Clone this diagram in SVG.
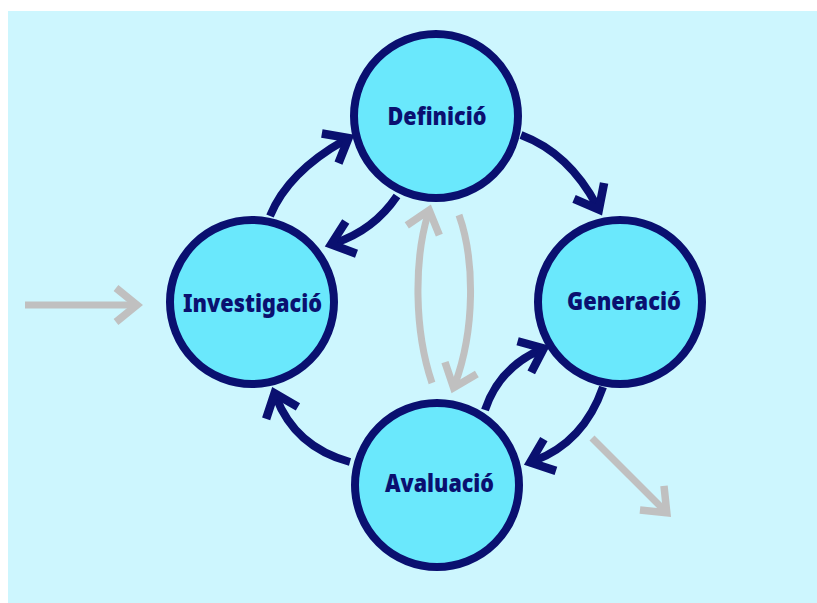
<svg xmlns="http://www.w3.org/2000/svg" width="817" height="603" viewBox="0 0 817 603">
  <defs>
    <marker id="headNavy" markerUnits="userSpaceOnUse" orient="auto" viewBox="-30 -25 40 50" refX="-4" refY="0" markerWidth="40" markerHeight="50">
      <path d="M-21,-17 L0,0 L-21,17" fill="none" stroke="#0a1070" stroke-width="8.5" stroke-linejoin="miter"/>
    </marker>
    <marker id="headGray" markerUnits="userSpaceOnUse" orient="auto" viewBox="-30 -25 40 50" refX="-4" refY="0" markerWidth="40" markerHeight="50">
      <path d="M-21,-17 L0,0 L-21,17" fill="none" stroke="#c0c0c0" stroke-width="7.5" stroke-linejoin="miter"/>
    </marker>
  </defs>
  <style>
    .node circle { fill: #6ae8fc; stroke: #0a1070; stroke-width: 8; }
    .node text { font-family: "Noto Sans", "Open Sans", sans-serif; font-weight: 900; font-size: 24px; fill: #0a1070; text-anchor: middle; }
    .navy { fill: none; stroke: #0a1070; stroke-width: 8; marker-end: url(#headNavy); }
    .gray { fill: none; stroke: #c0c0c0; stroke-width: 7; marker-end: url(#headGray); }
  </style>
  <rect x="8" y="11" width="809" height="592" fill="#cdf6fe"/>
  <g id="connectors">
    <path class="navy" d="M270,216 Q288,172 345,140"/>
    <path class="navy" d="M397,196 Q374,230 335,243"/>
    <path class="navy" d="M521,135 Q569,153 597,206"/>
    <path class="navy" d="M603,387 Q584,442 534,461"/>
    <path class="navy" d="M485,410 Q499,368 540,350"/>
    <path class="navy" d="M350,462 Q295,447 276,397"/>
    <path class="gray" d="M432,383 C414,330 414,260 428,214"/>
    <path class="gray" d="M459,215 C475,260 475,330 455,384"/>
    <path class="gray" d="M25,305 L133,305"/>
    <path class="gray" d="M592,438 L664,510"/>
  </g>
  <g id="definicio" class="node">
    <circle cx="436" cy="116" r="82"/>
    <text x="437" y="125" textLength="99" lengthAdjust="spacingAndGlyphs">Definició</text>
  </g>
  <g id="investigacio" class="node">
    <circle cx="252" cy="302" r="82"/>
    <text x="252.5" y="312" textLength="139" lengthAdjust="spacingAndGlyphs">Investigació</text>
  </g>
  <g id="generacio" class="node">
    <circle cx="620" cy="302" r="82"/>
    <text x="624" y="310" textLength="114" lengthAdjust="spacingAndGlyphs">Generació</text>
  </g>
  <g id="avaluacio" class="node">
    <circle cx="437" cy="485" r="82"/>
    <text x="439.5" y="492" textLength="109" lengthAdjust="spacingAndGlyphs">Avaluació</text>
  </g>
</svg>
